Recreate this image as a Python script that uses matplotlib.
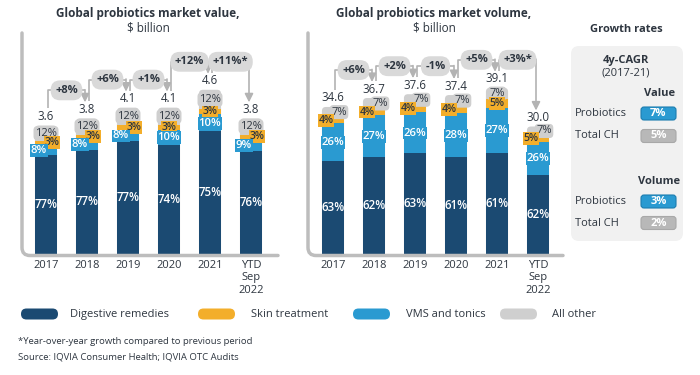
import matplotlib
matplotlib.use("Agg")
import matplotlib.pyplot as plt
from matplotlib.patches import FancyBboxPatch, PathPatch
from matplotlib.path import Path
from matplotlib.transforms import Affine2D

plt.rcParams['font.family'] = ['Open Sans', 'DejaVu Sans']

# ---------------- data ----------------
years = ["2017", "2018", "2019", "2020", "2021", "YTD\nSep\n2022"]

value_totals = [3.6, 3.8, 4.1, 4.1, 4.6, 3.8]
value_digestive = [77, 77, 77, 74, 75, 76]
value_vms = [8, 8, 8, 10, 10, 9]
value_skin = [3, 3, 3, 3, 3, 3]
value_other = [12, 12, 12, 12, 12, 12]
value_growth = ["+8%", "+6%", "+1%", "+12%", "+11%*"]

volume_totals = [34.6, 36.7, 37.6, 37.4, 39.1, 30.0]
volume_digestive = [63, 62, 63, 61, 61, 62]
volume_vms = [26, 27, 26, 28, 27, 26]
volume_skin = [4, 4, 4, 4, 5, 5]
volume_other = [7, 7, 7, 7, 7, 7]
volume_growth = ["+6%", "+2%", "-1%", "+5%", "+3%*"]

legend_labels = ["Digestive remedies", "Skin treatment", "VMS and tonics", "All other"]
cagr_rows = ["Probiotics", "Total CH"]
cagr_value = ["7%", "5%"]
cagr_volume = ["3%", "2%"]

# ---------------- style ----------------
NAVY = "#1b4a72"
ORANGE = "#f3ae2b"
BLUE = "#2a9ad1"
GREY = "#cfcfcf"
TEXT = "#2e3640"
AXIS = "#bdbdbd"
BRACKET = "#b3b3b3"
PILL = "#d9d9d9"

W, H = 700, 375
fig = plt.figure(figsize=(7, 3.75), dpi=100)
pix = Affine2D().scale(1 / W, -1 / H).translate(0, 1) + fig.transFigure


def make_axes(x0, x1, top, base, c0, step, ymax):
    ax = fig.add_axes([x0 / W, 1 - base / H, (x1 - x0) / W, (base - top) / H])
    ax.set_xlim((x0 - c0) / step, (x1 - c0) / step)
    ax.set_ylim(0, ymax)
    for s in ax.spines.values():
        s.set_visible(False)
    ax.set_yticks([])
    ax.set_xticks(range(len(years)))
    ax.set_xticklabels(years, fontsize=8, color=TEXT, linespacing=1.2)
    ax.tick_params(axis='x', length=0, pad=4)
    ax.patch.set_alpha(0)
    # axis line with rounded corner
    r = 8
    yb = base + 1.5
    verts = [(x0, top), (x0, yb - r), (x0, yb), (x0 + r, yb), (x1, yb)]
    codes = [Path.MOVETO, Path.LINETO, Path.CURVE3, Path.CURVE3, Path.LINETO]
    fig.add_artist(PathPatch(Path(verts, codes), transform=pix, fill=False,
                             edgecolor=AXIS, lw=2.5, capstyle='round'))
    return ax


def draw_chart(ax, totals, dig, vms, skin, other, growth, fmt, stagger):
    bw = 0.54
    fig.canvas.draw()
    ppu = ax.transData.transform((0, 1))[1] - ax.transData.transform((0, 0))[1]
    ppx = ax.transData.transform((1, 0))[0] - ax.transData.transform((0, 0))[0]
    dy = lambda p: p / ppu
    dx = lambda p: p / ppx
    n = len(totals)
    for i in range(n):
        segs = {"dig": dig[i], "vms": vms[i], "skin": skin[i], "other": other[i]}
        s = sum(segs.values())
        h = {k: totals[i] * v / s for k, v in segs.items()}
        b_dig = 0
        b_vms = h["dig"]
        b_skin = b_vms + h["vms"]
        b_other = b_skin + h["skin"]
        # grey rounded top (full bar, covered below)
        rad = 4
        ax.add_patch(FancyBboxPatch((i - bw / 2, 0), bw, totals[i],
                                    boxstyle=f"round,pad=0,rounding_size={dx(rad)}",
                                    mutation_aspect=dy(rad) / dx(rad),
                                    fc=GREY, ec='none', zorder=1))
        ax.bar(i, h["dig"], bw, bottom=b_dig, color=NAVY, zorder=2)
        ax.bar(i, h["vms"], bw, bottom=b_vms, color=BLUE, zorder=2)
        ax.bar(i, h["skin"], bw, bottom=b_skin, color=ORANGE, zorder=2)

        stag = h[stagger["test"]] * ppu < stagger["thresh"]
        xoff = {"dig": 0, "vms": 0, "skin": 0, "other": 0}
        if stag:
            xoff[stagger["left"]] = -dx(7)
            xoff[stagger["right"]] = dx(6)
        ys = {"dig": b_dig + h["dig"] / 2, "vms": b_vms + h["vms"] / 2,
              "skin": b_skin + h["skin"] / 2, "other": b_other + h["other"] / 2}
        ax.text(i, ys["dig"], f"{dig[i]}%", ha='center', va='center', color='white',
                fontsize=8.3, fontweight='semibold', zorder=5)
        ax.text(i + xoff["other"], ys["other"], f"{other[i]}%", ha='center', va='center',
                color=TEXT, fontsize=8, zorder=5,
                bbox=dict(boxstyle="round,pad=0.14,rounding_size=0.35", fc=GREY, ec='none'))
        ax.text(i + xoff["skin"], ys["skin"], f"{skin[i]}%", ha='center', va='center',
                color=TEXT, fontsize=7.6, fontweight='semibold', zorder=6,
                bbox=dict(boxstyle="square,pad=0.08", fc=ORANGE, ec='none'))
        ax.text(i + xoff["vms"], ys["vms"] - dy(0.5), f"{vms[i]}%", ha='center', va='center',
                color='white', fontsize=8.1, fontweight='semibold', zorder=7,
                bbox=dict(boxstyle="square,pad=0.08", fc=BLUE, ec='none'))
        ax.text(i, totals[i] + dy(9), fmt.format(totals[i]), ha='center', va='center',
                color=TEXT, fontsize=8.3, zorder=5)

    for i in range(n - 1):
        x_out = i + dx(1.5)
        x_in = i + 1 - dx(2)
        y_start = totals[i] + dy(17)
        y_tip = totals[i + 1] + dy(16)
        y_lvl = max(totals[i], totals[i + 1]) + dy(28)
        ax.plot([x_out, x_out, x_in], [y_start, y_lvl, y_lvl], color=BRACKET, lw=1.2,
                zorder=3, solid_capstyle='butt', clip_on=False)
        ax.annotate("", xy=(x_in, y_tip), xytext=(x_in, y_lvl + dy(0.6)),
                    arrowprops=dict(arrowstyle="-|>,head_length=0.5,head_width=0.25",
                                    color=BRACKET, lw=1.2, shrinkA=0, shrinkB=0),
                    zorder=3, annotation_clip=False)
        ax.text(i + 0.5, y_lvl, growth[i], ha='center', va='center', color=TEXT,
                fontsize=8, fontweight='bold', zorder=6,
                bbox=dict(boxstyle="round,pad=0.4,rounding_size=0.85", fc=PILL, ec='none'))


ax1 = make_axes(22, 278, 33, 254, 46, 41, (254 - 33) / 35.7)
ax2 = make_axes(308, 563, 33, 254, 333, 41, (254 - 33) / 4.25)

draw_chart(ax1, value_totals, value_digestive, value_vms, value_skin, value_other,
           value_growth, "{:.1f}", dict(test="vms", thresh=13, left="vms", right="skin"))
draw_chart(ax2, volume_totals, volume_digestive, volume_vms, volume_skin, volume_other,
           volume_growth, "{:.1f}", dict(test="skin", thresh=7.5, left="skin", right="other"))

# titles
for cx, t in [(148, "Global probiotics market value,"), (434, "Global probiotics market volume,")]:
    fig.text(cx, 14, t, transform=pix, ha='center', va='center', fontsize=8.5,
             fontweight='bold', color=TEXT)
    fig.text(cx, 27.5, "$ billion", transform=pix, ha='center', va='center', fontsize=8.5,
             color=TEXT)

# growth rates panel
fig.text(626, 29, "Growth rates", transform=pix, ha='center', va='center', fontsize=8,
         fontweight='bold', color=TEXT)
fig.add_artist(FancyBboxPatch((571, 46), 112, 195, boxstyle="round,pad=0,rounding_size=8",
                              transform=pix, fc="#f1f1f1", ec='none'))
fig.text(626, 60, "4y-CAGR", transform=pix, ha='center', va='center', fontsize=8,
         fontweight='bold', color=TEXT)
fig.text(626, 73, "(2017-21)", transform=pix, ha='center', va='center', fontsize=8,
         color=TEXT)


def cagr_block(title, y_title, ys, vals, title_right):
    fig.text(title_right, y_title, title, transform=pix, ha='right', va='center',
             fontsize=8, fontweight='bold', color=TEXT)
    for row, y, v, fc, ec in zip(cagr_rows, ys, vals, [BLUE, "#b8b8b8"], ["#1c7db0", "#a8a8a8"]):
        fig.text(575, y, row, transform=pix, ha='left', va='center', fontsize=8, color=TEXT)
        fig.add_artist(FancyBboxPatch((641, y - 6.5), 35, 13,
                                      boxstyle="round,pad=0,rounding_size=3",
                                      transform=pix, fc=fc, ec=ec, lw=0.8))
        fig.text(658.5, y, v, transform=pix, ha='center', va='center', fontsize=8,
                 fontweight='bold', color='white')


cagr_block("Value", 94, [113.5, 136], cagr_value, 675)
cagr_block("Volume", 182, [201.5, 223], cagr_volume, 680)

# legend
for (px0, tx), lab, col in zip([(21, 70), (198, 251), (353, 406), (500, 552)], legend_labels,
                               [NAVY, ORANGE, BLUE, GREY]):
    fig.add_artist(FancyBboxPatch((px0, 308.5), 37, 11, boxstyle="round,pad=0,rounding_size=5.5",
                                  transform=pix, fc=col, ec='none'))
    fig.text(tx, 314.5, lab, transform=pix, ha='left', va='center', fontsize=8, color=TEXT)

# footnotes
fig.text(18, 342, "*Year-over-year growth compared to previous period", transform=pix,
         ha='left', va='center', fontsize=6.8, color=TEXT)
fig.text(18, 357, "Source: IQVIA Consumer Health; IQVIA OTC Audits", transform=pix,
         ha='left', va='center', fontsize=6.8, color=TEXT)

fig.savefig("out.png", dpi=100)
